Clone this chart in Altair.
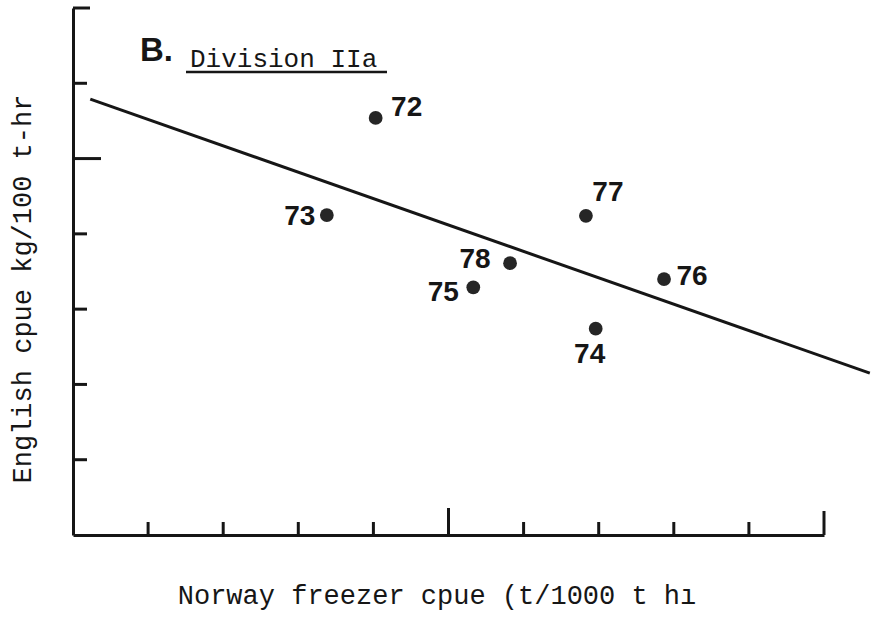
import altair as alt
import pandas as pd

# Annual catch-per-unit-effort pairs, Division IIa
years = ["72", "73", "74", "75", "76", "77", "78"]
norway_cpue = [4.03, 3.38, 6.96, 5.33, 7.87, 6.83, 5.82]
english_cpue = [5.54, 4.25, 2.74, 3.29, 3.40, 4.24, 3.61]

# Fitted regression line end points
fit_x = [0.23, 10.61]
fit_y = [5.79, 2.15]

# Axis divisions
x_ticks = list(range(1, 11))
y_ticks = list(range(1, 8))

# Label placement around each dot (pixels)
label_offsets = {
    "72": (31, -10), "73": (-27, 2), "74": (-6, 26), "75": (-30, 6),
    "76": (28, -2), "77": (22, -23), "78": (-35, -3),
}

W, H = 751, 527
X_MAX, Y_MAX = 10, 7
px_x = W / X_MAX
px_y = H / Y_MAX
INK = "#161616"

points = pd.DataFrame({"year": years, "x": norway_cpue, "y": english_cpue})
points["lx"] = [x + label_offsets[yr][0] / px_x for yr, x in zip(years, norway_cpue)]
points["ly"] = [y - label_offsets[yr][1] / px_y for yr, y in zip(years, english_cpue)]

fit = pd.DataFrame({"x": fit_x, "y": fit_y})

# Hand-ruled ticks: the half-way and end marks are drawn longer
xt = pd.DataFrame({"v": x_ticks})
xt["zero"] = 0.0
xt["len"] = [(27 if v == 5 else 24 if v == 10 else 13) / px_y for v in x_ticks]
yt = pd.DataFrame({"v": y_ticks})
yt["zero"] = 0.0
yt["len"] = [(28 if v == 5 else 17 if v == Y_MAX else 14) / px_x for v in y_ticks]

xs = alt.Scale(domain=[0, X_MAX], nice=False, zero=False)
ys = alt.Scale(domain=[0, Y_MAX], nice=False, zero=False)
x_axis = alt.Axis(domain=True, ticks=False, labels=False, grid=False, title=None,
                  domainColor=INK, domainWidth=3)
y_axis = alt.Axis(domain=True, ticks=False, labels=False, grid=False, title=None,
                  domainColor=INK, domainWidth=3)

base = alt.Chart(points)

dots = base.mark_circle(size=190, color="#262626", opacity=1).encode(
    x=alt.X("x:Q", scale=xs, axis=x_axis),
    y=alt.Y("y:Q", scale=ys, axis=y_axis),
)

labels = base.mark_text(font="Liberation Sans", fontSize=28, fontWeight="bold",
                        color=INK, align="center", baseline="middle").encode(
    x="lx:Q", y="ly:Q", text="year:N"
)

line = alt.Chart(fit).mark_line(color=INK, strokeWidth=3, clip=False).encode(
    x="x:Q", y="y:Q"
)

x_tick_marks = alt.Chart(xt).mark_rule(color=INK, strokeWidth=3).encode(
    x="v:Q", y="zero:Q", y2="len:Q"
)
y_tick_marks = alt.Chart(yt).mark_rule(color=INK, strokeWidth=3).encode(
    y="v:Q", x="zero:Q", x2="len:Q"
)

annot = alt.Chart(pd.DataFrame({"k": [0]}))

panel = annot.mark_text(font="Liberation Sans", fontSize=33, fontWeight="bold",
                        color=INK, align="left", baseline="alphabetic").encode(
    x=alt.value(67), y=alt.value(53), text=alt.value("B.")
)
division = annot.mark_text(font="Liberation Mono", fontSize=26, color=INK,
                           align="left", baseline="alphabetic").encode(
    x=alt.value(117), y=alt.value(59), text=alt.value("Division IIa")
)
underline = annot.mark_rule(color=INK, strokeWidth=2.5).encode(
    x=alt.value(113), x2=alt.value(314), y=alt.value(64)
)
x_title = annot.mark_text(font="Liberation Mono", fontSize=27, color=INK,
                          align="center", baseline="alphabetic").encode(
    x=alt.value(364), y=alt.value(596),
    text=alt.value("Norway freezer cpue (t/1000 t h\u0131")
)
y_title = annot.mark_text(font="Liberation Mono", fontSize=27, color=INK,
                          align="center", baseline="middle", angle=270).encode(
    x=alt.value(-50), y=alt.value(281),
    text=alt.value("English cpue kg/100 t-hr")
)

chart = alt.layer(
    line, x_tick_marks, y_tick_marks, dots, labels,
    panel, division, underline, x_title, y_title,
).properties(
    width=W, height=H,
    autosize=alt.AutoSizeParams(type="none"),
    padding={"left": 73, "top": 8, "right": 48, "bottom": 82},
    background="white",
).configure_view(stroke=None)

chart.save("out.html", embed_options={"renderer": "svg", "actions": False})
